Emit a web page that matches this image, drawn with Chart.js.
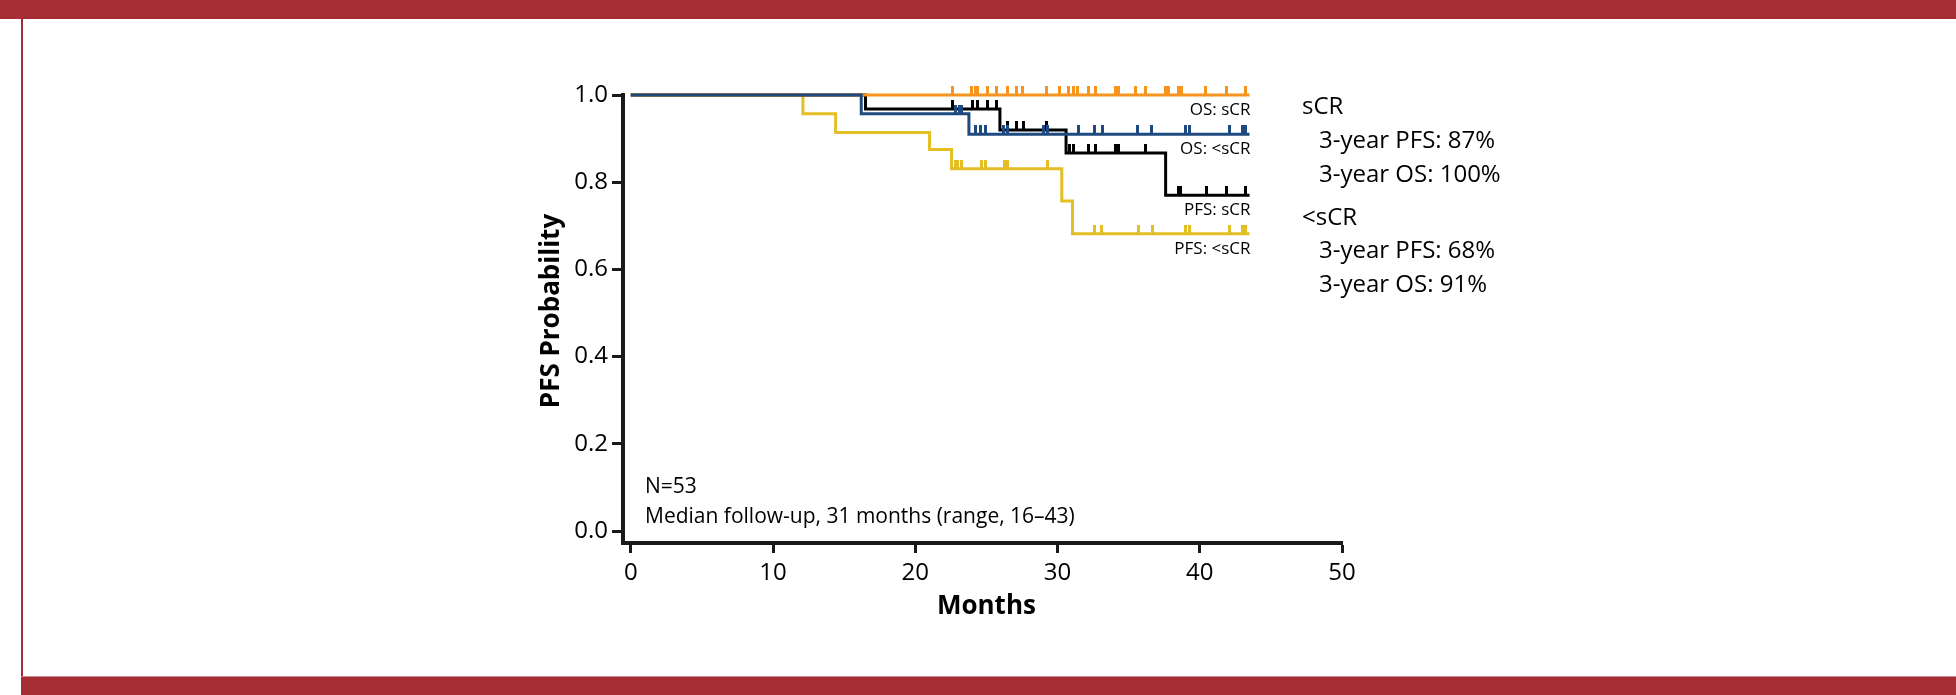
<!DOCTYPE html>
<html>
<head>
<meta charset="utf-8">
<script src="https://cdn.jsdelivr.net/npm/chart.js@4.4.1/dist/chart.umd.min.js"></script>
<style>
  html, body { margin: 0; padding: 0; background: #fff; }
  #page { position: relative; width: 1956px; height: 695px; overflow: hidden; }
  .bar-top { position: absolute; left: 0; top: 0; width: 1956px; height: 19px; background: #a62d33; }
  .bar-bottom { position: absolute; left: 21px; top: 676px; width: 1935px; height: 19px; background: #a62d33; border-top: 1px solid #c98a8d; }
  .edge { position: absolute; left: 21px; top: 0; width: 2px; height: 695px; background: #a62d33; }
  #chart { position: absolute; left: 0; top: 0; }
</style>
</head>
<body>
<div id="page">
  <div class="bar-top"></div>
  <div class="edge"></div>
  <div class="bar-bottom"></div>
  <canvas id="chart" width="1956" height="695"></canvas>
</div>
<script>
// axes
const monthTicks = [0, 10, 20, 30, 40, 50];
const probTicks = [0, 0.2, 0.4, 0.6, 0.8, 1.0];

// Kaplan-Meier steps: time of each step (months) and the probability after it
const pfsScrTimes  = [0, 16.5, 25.95, 30.6, 37.6, 43.5];
const pfsScrValues = [1, 0.968, 0.920, 0.867, 0.770, 0.770];
const pfsScrCensor = [22.65, 24.0, 24.35, 25.1, 25.7, 26.5, 27.15, 27.6, 29.2, 30.87, 31.15,
                      32.2, 32.7, 34.1, 34.3, 36.2, 38.5, 38.65, 40.5, 41.85, 43.2];

const pfsLowTimes  = [0, 12.1, 14.4, 21.0, 22.55, 30.3, 31.05, 43.5];
const pfsLowValues = [1, 0.957, 0.914, 0.875, 0.831, 0.757, 0.682, 0.682];
const pfsLowCensor = [22.8, 23.0, 23.25, 24.66, 24.96, 26.25, 26.5, 29.3, 32.6, 33.1, 35.7,
                      36.7, 39.0, 39.3, 42.1, 43.0, 43.25];

const osScrTimes  = [0, 43.5];
const osScrValues = [1, 1];
const osScrCensor = [22.6, 23.96, 24.2, 24.35, 25.1, 25.7, 26.5, 27.1, 27.55, 29.2, 30.15,
                     30.8, 31.1, 31.4, 32.2, 32.7, 34.05, 34.3, 35.5, 36.15, 37.6, 37.8,
                     38.5, 38.7, 40.4, 41.85, 43.2];

const osLowTimes  = [0, 16.2, 23.77, 43.5];
const osLowValues = [1, 0.957, 0.910, 0.910];
const osLowCensor = [22.8, 23.1, 23.25, 24.2, 24.6, 24.96, 26.2, 26.5, 29.0, 29.3, 31.5,
                     32.6, 33.15, 35.6, 36.6, 39.0, 39.3, 42.1, 43.0, 43.2];

const curveLabels = ['OS: sCR', 'OS: <sCR', 'PFS: sCR', 'PFS: <sCR'];
const summaryLines = ['sCR', '3-year PFS: 87%', '3-year OS: 100%', '<sCR', '3-year PFS: 68%', '3-year OS: 91%'];
const noteLines = ['N=53', 'Median follow-up, 31 months (range, 16\u201343)'];
const xTitle = 'Months';
const yTitle = 'PFS Probability';

const NAVY = '#1f4a7f';
const ORANGE = '#f7941d';
const BLACK = '#000000';
const YELLOW = '#e3bf26';
const AXIS = '#1a1a1a';
const FONT = '"Open Sans", "Noto Sans", sans-serif';

// step curve points
function steps(times, values) {
  return times.map((t, i) => ({ x: t, y: values[i] }));
}

// level of the curve at a censoring time
function censorPoints(times, values, censor) {
  return censor.map(t => {
    let v = values[0];
    for (let i = 0; i < times.length; i++) {
      if (times[i] <= t) v = values[i];
    }
    return { x: t, y: v };
  });
}

// small vertical tick that sits on top of the point
function tickMark(color) {
  const c = document.createElement('canvas');
  c.width = 3;
  c.height = 18;
  const g = c.getContext('2d');
  g.fillStyle = color;
  g.fillRect(0, 0, 3, 9);
  return c;
}

function lineSet(times, values, color) {
  return {
    type: 'line',
    data: steps(times, values),
    stepped: true,
    borderColor: color,
    borderWidth: 3,
    pointRadius: 0,
    fill: false,
    clip: false
  };
}

function censorSet(times, values, censor, color) {
  return {
    type: 'scatter',
    data: censorPoints(times, values, censor),
    pointStyle: tickMark(color),
    pointRadius: 5,
    clip: false
  };
}

// axis titles (centred on the data range) and the text next to the curves
const notesPlugin = {
  id: 'notes',
  afterDraw(chart) {
    const { ctx, scales: { x, y } } = chart;
    ctx.save();
    ctx.fillStyle = '#000';

    // axis titles
    ctx.font = 'bold 26px ' + FONT;
    ctx.textAlign = 'center';
    ctx.textBaseline = 'middle';
    ctx.fillText(xTitle, x.getPixelForValue(25), 607);
    ctx.save();
    ctx.translate(552, y.getPixelForValue(0.5) - 2);
    ctx.rotate(-Math.PI / 2);
    ctx.fillText(yTitle, 0, 0);
    ctx.restore();

    ctx.textBaseline = 'alphabetic';

    // labels under the end of each curve
    const ends = [osScrValues, osLowValues, pfsScrValues, pfsLowValues];
    ctx.font = '17px ' + FONT;
    ctx.textAlign = 'right';
    const xr = x.getPixelForValue(43.5) + 1;
    ends.forEach((vals, i) => {
      ctx.fillText(curveLabels[i], xr, y.getPixelForValue(vals[vals.length - 1]) + 20);
    });

    // summary block
    ctx.textAlign = 'left';
    ctx.font = '24px ' + FONT;
    const base = [114, 148, 182, 225, 258, 292];
    summaryLines.forEach((s, i) => {
      const indent = (i === 0 || i === 3) ? 0 : 17;
      ctx.fillText(s, 1302 + indent, base[i]);
    });

    // N and follow-up
    ctx.font = '21px ' + FONT;
    ctx.fillText(noteLines[0], 645, 493);
    ctx.fillText(noteLines[1], 645, 523);
    ctx.restore();
  }
};

new Chart(document.getElementById('chart'), {
  data: {
    datasets: [
      censorSet(osLowTimes, osLowValues, osLowCensor, NAVY),
      censorSet(osScrTimes, osScrValues, osScrCensor, ORANGE),
      censorSet(pfsScrTimes, pfsScrValues, pfsScrCensor, BLACK),
      censorSet(pfsLowTimes, pfsLowValues, pfsLowCensor, YELLOW),
      lineSet(osLowTimes, osLowValues, NAVY),
      lineSet(osScrTimes, osScrValues, ORANGE),
      lineSet(pfsScrTimes, pfsScrValues, BLACK),
      lineSet(pfsLowTimes, pfsLowValues, YELLOW)
    ]
  },
  options: {
    responsive: false,
    animation: false,
    events: [],
    layout: { padding: { left: 533, right: 614, top: 95, bottom: 0 } },
    plugins: {
      legend: { display: false },
      tooltip: { enabled: false }
    },
    scales: {
      x: {
        type: 'linear',
        position: 'bottom',
        min: -0.55,
        max: 50,
        afterBuildTicks: axis => { axis.ticks = monthTicks.map(v => ({ value: v })); },
        afterFit: axis => { axis.height = 152; },
        ticks: {
          color: '#000',
          font: { family: FONT, size: 24 },
          padding: 6,
          maxRotation: 0,
          callback: v => String(v)
        },
        grid: {
          drawOnChartArea: false,
          drawTicks: true,
          tickLength: 10,
          tickWidth: 3,
          tickColor: AXIS
        },
        border: { display: true, color: AXIS, width: 4 },
        title: { display: false }
      },
      y: {
        type: 'linear',
        position: 'left',
        min: -0.0275,
        max: 1.0,
        afterBuildTicks: axis => { axis.ticks = probTicks.map(v => ({ value: v })); },
        afterFit: axis => { axis.width = 90; },
        ticks: {
          color: '#000',
          font: { family: FONT, size: 24 },
          padding: 4,
          callback: v => v.toFixed(1)
        },
        grid: {
          drawOnChartArea: false,
          drawTicks: true,
          tickLength: 11,
          tickWidth: 3,
          tickColor: AXIS
        },
        border: { display: true, color: AXIS, width: 4 },
        title: { display: false }
      }
    }
  },
  plugins: [notesPlugin]
});
</script>
</body>
</html>
